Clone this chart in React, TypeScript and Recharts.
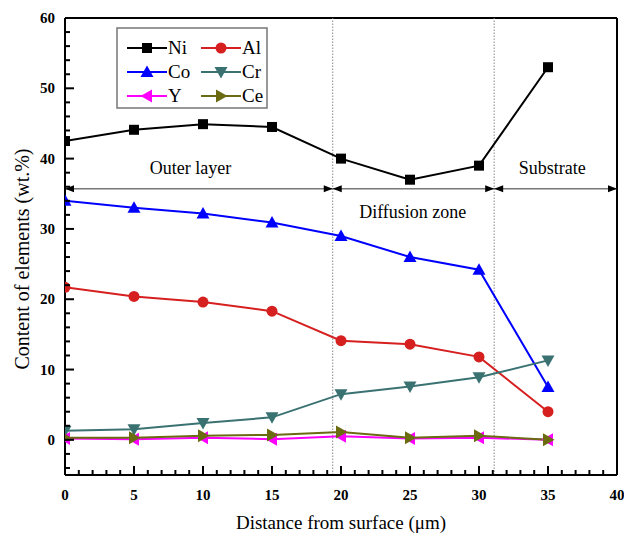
import React from 'react';
import { LineChart, Line, XAxis, YAxis, ReferenceLine, Customized } from 'recharts';

// Data (wt.%) vs distance from surface (µm)
const distances = [0, 5, 10, 15, 20, 25, 30, 35];
const niValues = [42.5, 44.1, 44.9, 44.5, 40.0, 37.0, 39.0, 53.0];
const alValues = [21.7, 20.4, 19.6, 18.3, 14.1, 13.6, 11.8, 4.0];
const coValues = [34.0, 33.0, 32.2, 30.9, 29.0, 26.0, 24.2, 7.5];
const crValues = [1.3, 1.5, 2.4, 3.2, 6.5, 7.6, 8.9, 11.3];
const yValues = [0.2, 0.1, 0.3, 0.1, 0.5, 0.2, 0.3, 0.0];
const ceValues = [0.3, 0.3, 0.6, 0.7, 1.1, 0.3, 0.6, 0.0];

const xMajorTicks = [0, 5, 10, 15, 20, 25, 30, 35, 40];
const xTicks = Array.from({ length: 41 }, (_, i) => i);
const yMajorTicks = [0, 10, 20, 30, 40, 50, 60];
const yTicks = [-4, -2, 0, 2, 4, 6, 8, 10, 12, 14, 16, 18, 20, 22, 24, 26, 28, 30, 32, 34, 36, 38, 40, 42, 44, 46, 48, 50, 52, 54, 56, 58, 60];

const zoneBounds = [0, 19.4, 31.1, 40];
const zoneNames = ['Outer layer', 'Diffusion zone', 'Substrate'];
const zoneLabelX = [9.1, 25.2, 35.3];
const zoneLabelY = [38.7, 32.4, 38.7];
const arrowLevel = 35.7;

type Shape = 'square' | 'circle' | 'up' | 'down' | 'left' | 'right';
const series: { key: string; name: string; color: string; shape: Shape; values: number[] }[] = [
  { key: 'ni', name: 'Ni', color: '#000000', shape: 'square', values: niValues },
  { key: 'al', name: 'Al', color: '#d61f1f', shape: 'circle', values: alValues },
  { key: 'co', name: 'Co', color: '#0000ff', shape: 'up', values: coValues },
  { key: 'cr', name: 'Cr', color: '#3a7272', shape: 'down', values: crValues },
  { key: 'y', name: 'Y', color: '#ff00ff', shape: 'left', values: yValues },
  { key: 'ce', name: 'Ce', color: '#6b6b12', shape: 'right', values: ceValues },
];

const data = distances.map((d, i) => {
  const row: Record<string, number> = { x: d };
  series.forEach((s) => (row[s.key] = s.values[i]));
  return row;
});

const SERIF = "Liberation Serif, DejaVu Serif, serif";
const serifStyle = { fontFamily: SERIF };

function marker(shape: Shape, color: string, cx: number, cy: number, key?: string | number) {
  switch (shape) {
    case 'square':
      return <rect key={key} x={cx - 5} y={cy - 5} width={10} height={10} fill={color} />;
    case 'circle':
      return <circle key={key} cx={cx} cy={cy} r={5.5} fill={color} />;
    case 'up':
      return <polygon key={key} points={`${cx},${cy - 6.5} ${cx - 6.5},${cy + 5} ${cx + 6.5},${cy + 5}`} fill={color} />;
    case 'down':
      return <polygon key={key} points={`${cx},${cy + 6.5} ${cx - 6.5},${cy - 5} ${cx + 6.5},${cy - 5}`} fill={color} />;
    case 'left':
      return <polygon key={key} points={`${cx - 6.5},${cy} ${cx + 5},${cy - 6.5} ${cx + 5},${cy + 6.5}`} fill={color} />;
    case 'right':
    default:
      return <polygon key={key} points={`${cx + 6.5},${cy} ${cx - 5},${cy - 6.5} ${cx - 5},${cy + 6.5}`} fill={color} />;
  }
}

const XTick = (props: any) => {
  const { x, y, payload } = props;
  const v = payload.value;
  const major = xMajorTicks.includes(v);
  return (
    <g>
      <line x1={x} x2={x} y1={y} y2={y - (major ? 9 : 5)} stroke="#000" strokeWidth={2} />
      {major && (
        <text x={x} y={y + 25} textAnchor="middle" style={serifStyle} fontWeight="bold" fontSize={15} fill="#000">
          {v}
        </text>
      )}
    </g>
  );
};

const YTick = (props: any) => {
  const { x, y, payload } = props;
  const v = payload.value;
  const major = yMajorTicks.includes(v);
  return (
    <g>
      <line x1={x} x2={x + (major ? 9 : 5)} y1={y} y2={y} stroke="#000" strokeWidth={2} />
      {major && (
        <text x={x - 10} y={y + 5} textAnchor="end" style={serifStyle} fontWeight="bold" fontSize={15} fill="#000">
          {v}
        </text>
      )}
    </g>
  );
};

const ArrowSegment = (props: any) => {
  const { x1, y1, x2 } = props;
  const y = y1;
  const a = 9;
  const h = 3.5;
  return (
    <g>
      <line x1={x1} x2={x2} y1={y} y2={y} stroke="#333" strokeWidth={1} />
      <polygon points={`${x1},${y} ${x1 + a},${y - h} ${x1 + a},${y + h}`} fill="#000" />
      <polygon points={`${x2},${y} ${x2 - a},${y - h} ${x2 - a},${y + h}`} fill="#000" />
    </g>
  );
};

const Decorations = () => {
  const lx = 117;
  const ly = 28;
  const colX = [10, 84];
  const rowY = [20, 44, 68];
  return (
    <g>
      <rect x={lx} y={ly} width={150} height={80} fill="#fff" stroke="#777" strokeWidth={1.5} />
      {series.map((s, i) => {
        const col = i % 2;
        const row = Math.floor(i / 2);
        const sx = lx + colX[col];
        const sy = ly + rowY[row];
        return (
          <g key={s.key}>
            <line x1={sx} x2={sx + 40} y1={sy} y2={sy} stroke={s.color} strokeWidth={2} />
            {marker(s.shape, s.color, sx + 20, sy)}
            <text x={sx + 41} y={sy + 6} style={serifStyle} fontSize={19} fill="#000">
              {s.name}
            </text>
          </g>
        );
      })}
      <text x={341} y={529} textAnchor="middle" style={serifStyle} fontSize={19} fill="#000">
        Distance from surface (μm)
      </text>
      <text
        x={0}
        y={0}
        transform="translate(29,259) rotate(-90)"
        textAnchor="middle"
        style={serifStyle}
        fontSize={20}
        fill="#000"
      >
        Content of elements (wt.%)
      </text>
    </g>
  );
};

export default function App() {
  return (
    <div style={{ position: 'absolute', left: 0, top: 0, background: '#fff', fontFamily: SERIF }}>
      <LineChart width={624} height={535} data={data} margin={{ top: 18, right: 7, left: 8, bottom: 20 }}>
        <XAxis
          dataKey="x"
          type="number"
          domain={[0, 40]}
          ticks={xTicks}
          interval={0}
          tickSize={0}
          tickMargin={0}
          tick={<XTick />}
          tickLine={false}
          axisLine={{ stroke: '#000', strokeWidth: 2 }}
          height={40}
          allowDataOverflow
        />
        <YAxis
          type="number"
          domain={[-5, 60]}
          ticks={yTicks}
          interval={0}
          tickSize={0}
          tickMargin={0}
          tick={<YTick />}
          tickLine={false}
          axisLine={{ stroke: '#000', strokeWidth: 2 }}
          width={57}
          allowDataOverflow
        />
        <ReferenceLine y={60} stroke="#000" strokeWidth={2} />
        <ReferenceLine x={40} stroke="#000" strokeWidth={2} />
        {zoneBounds.slice(1, 3).map((b) => (
          <ReferenceLine key={`v${b}`} x={b} stroke="#8a8a8a" strokeWidth={1} strokeDasharray="1.5 1.5" />
        ))}
        {zoneNames.map((n, i) => (
          <ReferenceLine
            key={`seg${n}`}
            segment={[
              { x: zoneBounds[i], y: arrowLevel },
              { x: zoneBounds[i + 1], y: arrowLevel },
            ]}
            shape={<ArrowSegment />}
            ifOverflow="visible"
          />
        ))}
        {zoneNames.map((n, i) => (
          <ReferenceLine
            key={`lbl${n}`}
            segment={[
              { x: zoneLabelX[i] - 0.01, y: zoneLabelY[i] },
              { x: zoneLabelX[i] + 0.01, y: zoneLabelY[i] },
            ]}
            stroke="none"
            label={{
              value: n,
              position: 'center',
              style: serifStyle,
              fontSize: 18,
              fill: '#000',
            }}
          />
        ))}
        {series.map((s) => (
          <Line
            key={s.key}
            dataKey={s.key}
            name={s.name}
            stroke={s.color}
            strokeWidth={2}
            isAnimationActive={false}
            dot={(p: any) => marker(s.shape, s.color, p.cx, p.cy, `${s.key}-${p.index}`)}
            activeDot={false}
          />
        ))}
        <Customized component={Decorations} />
      </LineChart>
    </div>
  );
}
